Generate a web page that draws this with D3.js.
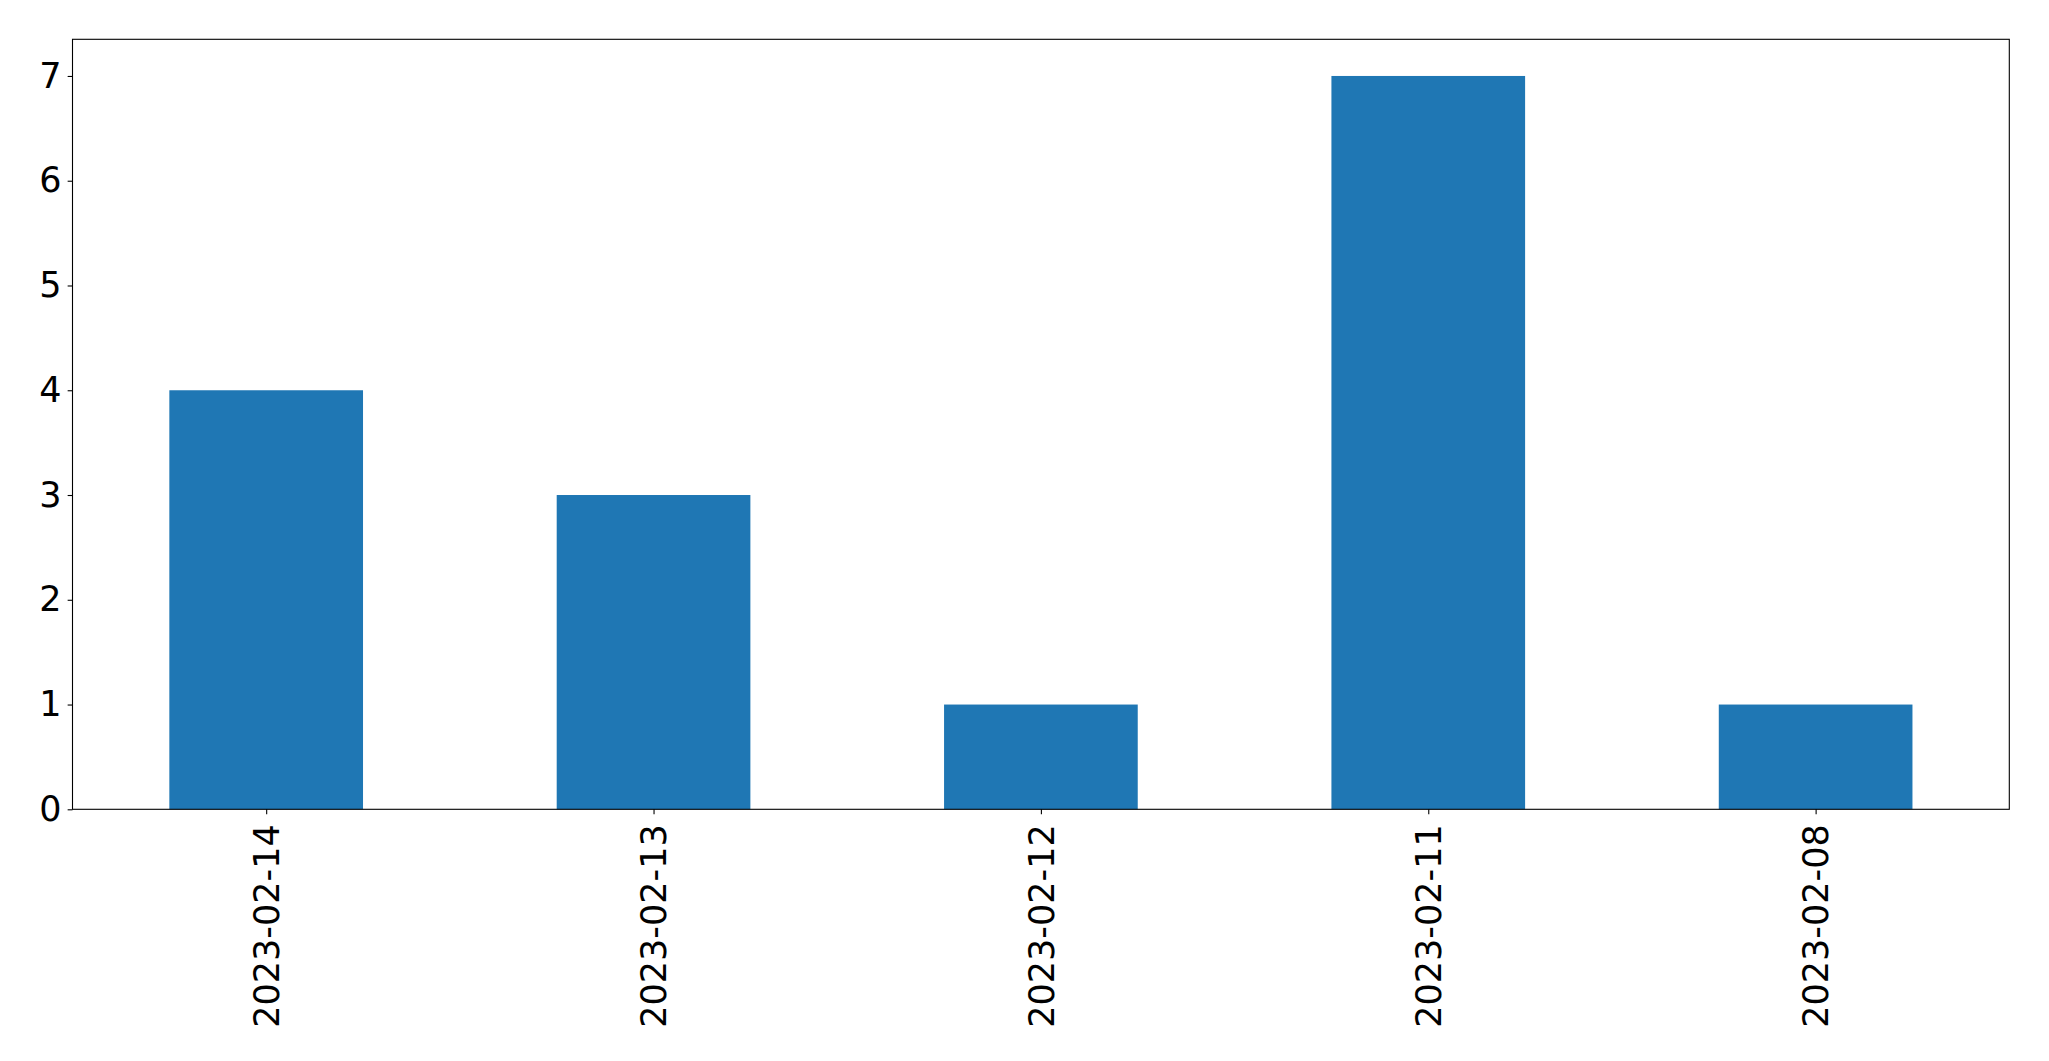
<!DOCTYPE html>
<html>
<head>
<meta charset="utf-8">
<script src="https://cdn.jsdelivr.net/npm/d3@7"></script>
<style>
html,body{margin:0;padding:0;background:#fff;}
svg{display:block;}
text{font-family:"DejaVu Sans",sans-serif;}
</style>
</head>
<body>
<svg id="chart" width="2049" height="1061"></svg>
<script>
const categories = ["2023-02-14","2023-02-13","2023-02-12","2023-02-11","2023-02-08"];
const values = [4,3,1,7,1];
const yTicks = [0,1,2,3,4,5,6,7];

const mLeft = 72.5, mRight = 2009.3, mTop = 39.3, mBottom = 809.3;
const svg = d3.select("#chart");

const x = d3.scaleLinear().domain([-0.5, categories.length - 0.5]).range([mLeft, mRight]);
const y = d3.scaleLinear().domain([0, 7.35]).range([mBottom, mTop]);
const barW = 0.5;

svg.append("g").selectAll("rect").data(values).join("rect")
  .attr("x", (d,i) => x(i - barW/2))
  .attr("width", (d,i) => x(i + barW/2) - x(i - barW/2))
  .attr("y", d => y(d))
  .attr("height", d => y(0) - y(d))
  .attr("fill", "#1f77b4");

const fs = 35;
// y axis
const yAxis = d3.axisLeft(y).tickValues(yTicks).tickFormat(d3.format("d")).tickSize(4.86).tickPadding(6);
const gy = svg.append("g").attr("transform", `translate(${mLeft},0)`).call(yAxis);
gy.select(".domain").remove();
gy.selectAll("line").attr("stroke","#000").attr("stroke-width",1.1);
gy.selectAll("text").attr("font-size", fs).attr("fill","#000").attr("font-family","DejaVu Sans");

// x axis
const xAxis = d3.axisBottom(x).tickValues(d3.range(categories.length)).tickFormat(i => categories[i]).tickSize(4.86).tickPadding(0);
const gx = svg.append("g").attr("transform", `translate(0,${mBottom})`).call(xAxis);
gx.select(".domain").remove();
gx.selectAll("line").attr("stroke","#000").attr("stroke-width",1.1);
gx.selectAll("text")
  .attr("font-size", fs).attr("fill","#000").attr("font-family","DejaVu Sans")
  .attr("text-anchor","end")
  .attr("dy","0.35em")
  .attr("y", 0)
  .attr("x", 0)
  .attr("transform", "translate(0,15) rotate(-90)");

// frame
svg.append("rect")
  .attr("x", mLeft).attr("y", mTop)
  .attr("width", mRight - mLeft).attr("height", mBottom - mTop)
  .attr("fill","none").attr("stroke","#000").attr("stroke-width",1.1);
</script>
</body>
</html>
